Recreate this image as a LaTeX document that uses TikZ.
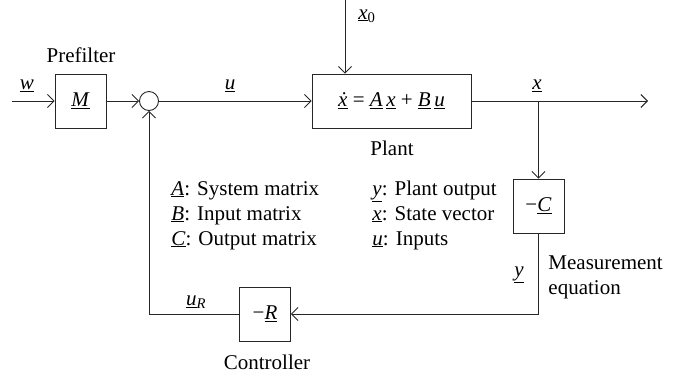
\documentclass[tikz,border=0pt]{standalone}
\usepackage{fontspec}
\setmainfont{Liberation Serif}
\usetikzlibrary{positioning,arrows.meta,shapes.geometric}

\newcommand{\uvar}[1]{\underline{\textit{#1}}}

\begin{document}
\begin{tikzpicture}[x=1pt, y=-1pt,
  % Node Styles
  blockbox/.style={rectangle, draw, minimum width=51pt, minimum height=54pt, inner sep=0pt, align=center},
  sumnode/.style={circle, draw, minimum size=19pt, inner sep=0pt},
  plainlabel/.style={inner sep=0pt, align=center},
  legendtext/.style={inner sep=0pt, anchor=base west},
  % Arrow Styles
  sigarrow/.style={-{Straight Barb[length=6.5pt,width=13pt]}},
  line width=0.9pt, draw=black!85,
]
\tikzset{font=\fontsize{21}{25}\selectfont}
\useasboundingbox (0,0) rectangle (677,373);

% Blocks
\node[blockbox] (M) at (80.5,101) {\uvar{M}};
\node[sumnode] (sum) at (149,101) {};
\node[blockbox, minimum width=159pt] (plant) at (391.5,101) {\uvar{\.{x}} = \uvar{A}\,\uvar{x} + \uvar{B}\,\uvar{u}};
\node[blockbox] (C) at (538.5,206) {−\uvar{C}};
\node[blockbox] (R) at (265,314) {−\uvar{R}};

% Free ends
\coordinate (win) at (12,101);
\coordinate (x0in) at (345,0);
\coordinate (xout) at (648,101);
\coordinate (branch) at (C |- plant);

% Labels
\node[plainlabel] (prefilterlbl) at (81,55) {Prefilter};
\node[plainlabel] (plantlbl) at (392,148) {Plant};
\node[plainlabel] (controllerlbl) at (267,362) {Controller};
\node[plainlabel, anchor=west, align=left] (measlbl) at (548,277) {Measurement\\equation};
\node[plainlabel] (wlbl) at (27,86) {\uvar{w}};
\node[plainlabel] (ulbl) at (230,86) {\uvar{u}};
\node[plainlabel] (xlbl) at (537,86) {\uvar{x}};
\node[plainlabel] (x0lbl) at (367,16) {\uvar{x}\textsubscript{0}};
\node[plainlabel] (uRlbl) at (196,302) {\uvar{u}\textsubscript{\textit{R}}};
\node[plainlabel] (ylbl) at (519,275) {\uvar{y}};

% Legend
\node[legendtext] (legA) at (171,195) {\uvar{A}: System matrix};
\node[legendtext] (legB) at (171,220) {\uvar{B}: Input matrix};
\node[legendtext] (legC) at (171,245) {\uvar{C}: Output matrix};
\node[legendtext] (legy) at (372,195) {\uvar{y}: Plant output};
\node[legendtext] (legx) at (372,220) {\uvar{x}: State vector};
\node[legendtext] (legu) at (372,245) {\uvar{u}: Inputs};

% Signals
\draw[sigarrow] (win) -- (M);
\draw[sigarrow] (M) -- (sum);
\draw[sigarrow] (sum) -- (plant);
\draw[sigarrow] (x0in) -- (x0in |- plant.north);
\draw[sigarrow] (plant) -- (xout);
\draw[sigarrow] (branch) -- (C);
\draw[sigarrow] (C) |- (R);
\draw[sigarrow] (R) -| (sum);

\end{tikzpicture}
\end{document}
